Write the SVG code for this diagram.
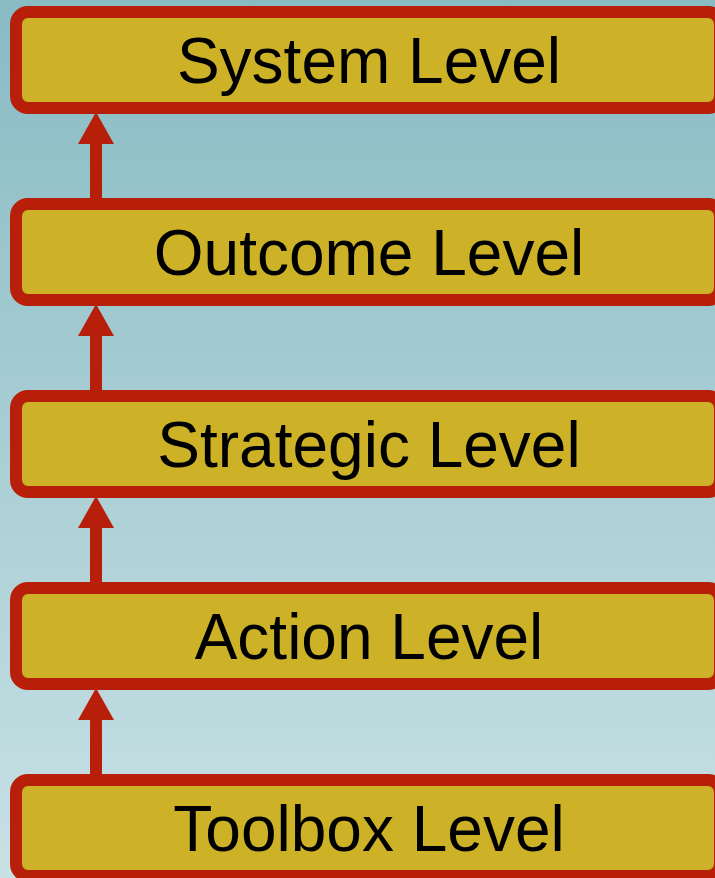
<svg xmlns="http://www.w3.org/2000/svg" width="715" height="878" viewBox="0 0 715 878">
<defs>
<linearGradient id="bg" x1="0" y1="0" x2="0" y2="1">
<stop offset="0" stop-color="#88bbc3"/>
<stop offset="1" stop-color="#c8e1e5"/>
</linearGradient>
</defs>
<style>
.box{fill:#cdb228;stroke:#b81f0a;stroke-width:12}
.lbl{font-family:"Liberation Sans",Arial,sans-serif;font-size:64px;fill:#000;text-anchor:middle}
.shaft{stroke:#b81f0a;stroke-width:12;fill:none}
.head{fill:#b81f0a}
</style>
<rect width="715" height="878" fill="url(#bg)"/>
<g id="connectors">
<line class="shaft" x1="96" y1="198" x2="96" y2="140"/>
<polygon class="head" points="96,112 114,144 78,144"/>
<line class="shaft" x1="96" y1="390" x2="96" y2="332"/>
<polygon class="head" points="96,304 114,336 78,336"/>
<line class="shaft" x1="96" y1="582" x2="96" y2="524"/>
<polygon class="head" points="96,496 114,528 78,528"/>
<line class="shaft" x1="96" y1="774" x2="96" y2="716"/>
<polygon class="head" points="96,688 114,720 78,720"/>
</g>
<g id="system">
<rect class="box" x="16" y="12" width="704" height="96" rx="12"/>
<text class="lbl" x="369" y="83">System Level</text>
</g>
<g id="outcome">
<rect class="box" x="16" y="204" width="704" height="96" rx="12"/>
<text class="lbl" x="369" y="275">Outcome Level</text>
</g>
<g id="strategic">
<rect class="box" x="16" y="396" width="704" height="96" rx="12"/>
<text class="lbl" x="369" y="467">Strategic Level</text>
</g>
<g id="action">
<rect class="box" x="16" y="588" width="704" height="96" rx="12"/>
<text class="lbl" x="369" y="659">Action Level</text>
</g>
<g id="toolbox">
<rect class="box" x="16" y="780" width="704" height="96" rx="12"/>
<text class="lbl" x="369" y="851">Toolbox Level</text>
</g>
</svg>
